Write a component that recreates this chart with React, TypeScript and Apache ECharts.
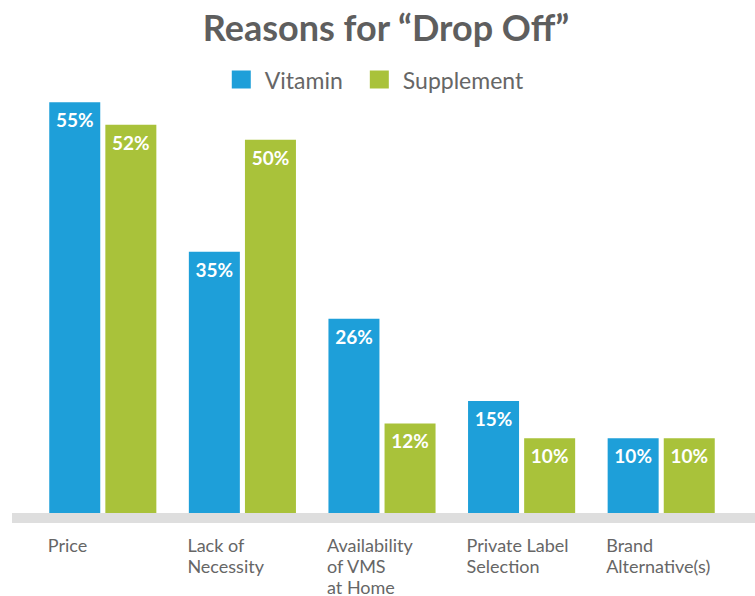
import React, { useEffect, useRef } from "react";
import * as echarts from "echarts";

const categories = ["Price", "Lack of\nNecessity", "Availability\nof VMS\nat Home", "Private Label\nSelection", "Brand\nAlternative(s)"];
const vitamin = [55, 35, 26, 15, 10];
const supplement = [52, 50, 12, 10, 10];
const seriesNames = ["Vitamin", "Supplement"];
const titleText = "Reasons for \u201cDrop Off\u201d";

const BLUE = "#1e9fd9";
const GREEN = "#a9c23a";
const GRAY_TEXT = "#5e5e5e";

export default function App() {
  const ref = useRef<HTMLDivElement>(null);
  useEffect(() => {
    if (!ref.current) return;
    const chart = echarts.init(ref.current, undefined, { renderer: "svg" });
    const label = {
      show: true,
      position: "insideTop" as const,
      distance: 8,
      color: "#ffffff",
      fontFamily: "Lato",
      fontWeight: "bold" as const,
      fontSize: 19,
      formatter: "{c}%",
    };
    chart.setOption({
      animation: false,
      backgroundColor: "#ffffff",
      title: {
        text: titleText,
        left: 381,
        textAlign: "center",
        top: 4,
        textStyle: { fontFamily: "Lato", fontWeight: "bold", fontSize: 36, color: GRAY_TEXT },
      },
      legend: {
        data: seriesNames,
        left: "center",
        top: 63,
        itemWidth: 19,
        itemHeight: 18,
        itemGap: 27,
        icon: "rect",
        textStyle: { fontFamily: "Lato", fontSize: 23, color: "#666666", padding: [0, 0, 0, 9] },
      },
      grid: { left: 33, right: 24, top: 65, bottom: 83, containLabel: false, outerBoundsMode: "none" },
      xAxis: {
        type: "category",
        data: categories,
        axisLine: { show: false },
        axisTick: { show: false },
        axisLabel: {
          margin: 21,
          align: "left",
          padding: [0, 0, 0, -55],
          fontFamily: "Lato",
          fontSize: 18,
          lineHeight: 21,
          color: "#666666",
          verticalAlign: "top",
          interval: 0,
          hideOverlap: false,
        },
      },
      yAxis: { type: "value", min: 0, max: 60, show: false, splitLine: { show: false } },
      graphic: [
        {
          type: "rect",
          left: 12,
          top: 513,
          shape: { width: 743, height: 10 },
          style: { fill: "#dedede" },
          z: -1,
        },
      ],
      series: [
        {
          name: seriesNames[0],
          type: "bar",
          data: vitamin,
          barWidth: 51,
          barGap: "10%",
          itemStyle: { color: BLUE },
          label,
        },
        {
          name: seriesNames[1],
          type: "bar",
          data: supplement,
          barWidth: 51,
          itemStyle: { color: GREEN },
          label,
        },
      ],
    });
    return () => chart.dispose();
  }, []);
  return <div ref={ref} style={{ width: 755, height: 596, position: "absolute", left: 0, top: 0 }} />;
}
